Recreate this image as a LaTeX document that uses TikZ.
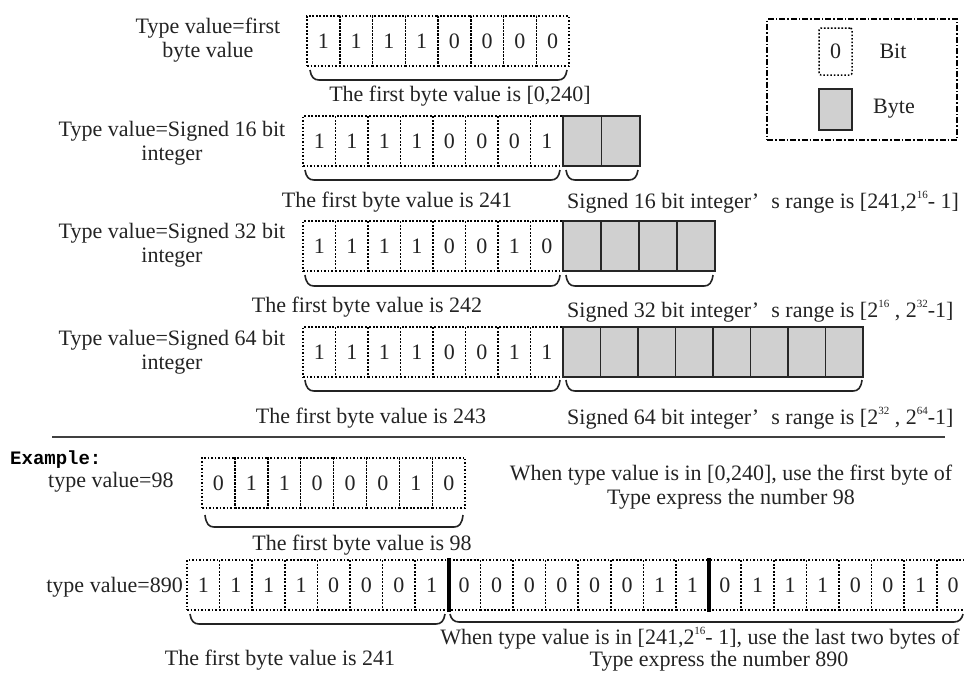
\documentclass[tikz,border=0pt]{standalone}
\usepackage{fontspec}
\setmainfont{Liberation Serif}
\newfontfamily\monob{Liberation Mono}
\usetikzlibrary{calc}
\definecolor{bytegray}{RGB}{208,208,208}
\definecolor{ink}{RGB}{35,35,35}
\newcommand\supn[1]{\raisebox{0.45em}{\fontsize{11}{11}\selectfont #1}}
\tikzset{
  bitcell/.style={draw=black, line width=1.5pt, dash pattern=on 1.6pt off 1.9pt,
    minimum height=50pt, inner sep=0pt, text=ink, font=\fontsize{22}{24}\selectfont},
  bytecell/.style={draw=black!85, line width=1.8pt, fill=bytegray, minimum height=50pt, inner sep=0pt},
  lbl/.style={font=\fontsize{22}{24}\selectfont, align=center, inner sep=0pt, text=ink},
  brk/.style={draw=ink, line width=1.6pt},
  legendbox/.style={draw=black, line width=1.3pt, dash pattern=on 6pt off 2pt on 1.5pt off 2pt, inner sep=0pt},
}
\newcommand\bitrow[5]{% name, x0, yc, w, bits
  \foreach \b [count=\i] in {#5}
    \node[bitcell, minimum width=#4pt] (#1-\i) at ({#2+(\i-0.5)*#4}, #3) {\b};}
\newcommand\byterow[5]{% name, x0, yc, w, n
  \foreach \i in {1,...,#5}
    \node[bytecell, minimum width=#4pt] (#1-\i) at ({#2+(\i-0.5)*#4}, #3) {};}
\newcommand\bracepath[4]{% x1, x2, ytop, ybot
  \draw[brk] (#1,#3) .. controls (#1+1,#4-3) and (#1+4,#4) .. (#1+9,#4)
    -- (#2-9,#4) .. controls (#2-4,#4) and (#2-1,#4-3) .. (#2,#3);}
\begin{document}
\begin{tikzpicture}[x=1pt, y=-1pt]
\useasboundingbox (0,0) rectangle (964,680);

% ---------- legend
\node[legendbox, minimum width=190pt, minimum height=121pt] (legend) at (862,79.5) {};
\node[bitcell, minimum width=33pt, minimum height=47pt, rounded corners=2pt] (legbit) at (835.5,51.5) {0};
\node[bytecell, minimum width=33pt, minimum height=41pt] (legbyte) at (835.5,109.5) {};
\node[lbl] (legbittxt) at (893,51) {Bit};
\node[lbl] (legbytetxt) at (894,109) {Byte};

% ---------- row 1
\node[lbl] (lab1) at (208,40) {Type value=first\\byte value};
\bitrow{ra}{307}{41}{32.75}{1,1,1,1,0,0,0,0}
\bracepath{310}{567}{70}{80}
\node[lbl] (ta1) at (460,96) {The first byte value is [0,240]};

% ---------- row 2
\node[lbl] (lab2) at (172,143) {Type value=Signed 16 bit\\integer};
\bitrow{rb}{303}{141}{32.5}{1,1,1,1,0,0,0,1}
\byterow{rbb}{563}{141}{38.5}{2}
\bracepath{305}{560}{170}{180}
\bracepath{566}{638}{170}{180}
\node[lbl] (tb1) at (397,202) {The first byte value is 241};
\node[lbl, anchor=west] (tb2) at (567,202) {Signed 16 bit integer’\hspace{0.55em}s range is [241,2\supn{16}- 1]};

% ---------- row 3
\node[lbl] (lab3) at (172,245) {Type value=Signed 32 bit\\integer};
\bitrow{rc}{303}{246}{32.5}{1,1,1,1,0,0,1,0}
\byterow{rcb}{563}{246}{38}{4}
\bracepath{305}{560}{275}{286}
\bracepath{566}{713}{275}{286}
\node[lbl] (tc1) at (367,307) {The first byte value is 242};
\node[lbl, anchor=west] (tc2) at (567,311) {Signed 32 bit integer’\hspace{0.55em}s range is [2\supn{16} , 2\supn{32}-1]};

% ---------- row 4
\node[lbl] (lab4) at (172,352) {Type value=Signed 64 bit\\integer};
\bitrow{rd}{303}{352}{32.5}{1,1,1,1,0,0,1,1}
\byterow{rdb}{563}{352}{37.5}{8}
\bracepath{305}{560}{380}{391}
\bracepath{566}{862}{380}{391}
\node[lbl] (td1) at (371,418) {The first byte value is 243};
\node[lbl, anchor=west] (td2) at (567,418) {Signed 64 bit integer’\hspace{0.55em}s range is [2\supn{32} , 2\supn{64}-1]};

% ---------- separator
\coordinate (sepL) at (52,437);
\coordinate (sepR) at (945,437);
\draw[line width=1.5pt, draw=black!75] (sepL) -- (sepR);

% ---------- example
\node[anchor=west, inner sep=0pt, font=\monob\bfseries\fontsize{19}{20}\selectfont] (extitle) at (10,460) {Example:};
\node[lbl, anchor=west] (ex1lab) at (48,482) {type value=98};
\bitrow{re}{202}{483}{32.9}{0,1,1,0,0,0,1,0}
\bracepath{205}{463}{515}{527}
\node[lbl] (te1) at (362,545) {The first byte value is 98};
\node[lbl] (te2) at (731,487) {When type value is in [0,240], use the first byte of\\Type express the number 98};

% ---------- example 890
\node[lbl, anchor=east] (ex2lab) at (183,587) {type value=890};
\bitrow{rf}{187}{585}{32.6}{1,1,1,1,0,0,0,1,0,0,0,0,0,0,1,1,0,1,1,1,0,0,1,0}
\draw[line width=4pt] ($(rf-8.north east)+(0,-1)$) -- ($(rf-8.south east)+(0,1)$);
\draw[line width=4pt] ($(rf-16.north east)+(0,-1)$) -- ($(rf-16.south east)+(0,1)$);
\bracepath{190}{445}{614}{624}
\bracepath{450}{963}{614}{622}
\node[lbl] (tf1) at (280,660) {The first byte value is 241};
\node[lbl] (tf2) at (700,638) {When type value is in [241,2\supn{16}- 1], use the last two bytes of};
\node[lbl] (tf3) at (719,661) {Type express the number 890};
\end{tikzpicture}
\end{document}
